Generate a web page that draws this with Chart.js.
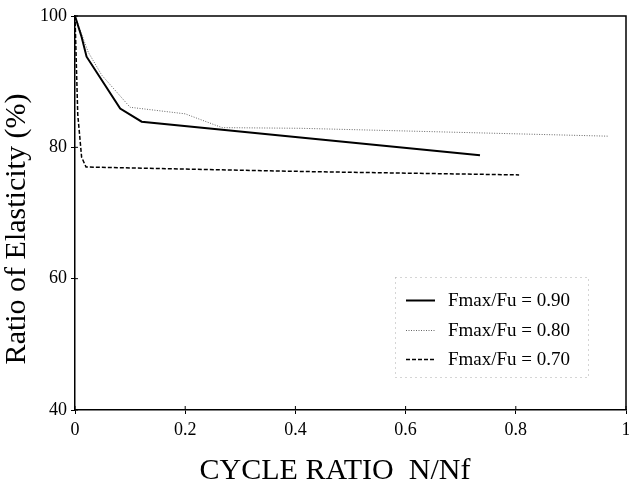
<!DOCTYPE html>
<html>
<head>
<meta charset="utf-8">
<script src="https://cdn.jsdelivr.net/npm/chart.js@4"></script>
<style>
  body { margin: 0; background: #fff; }
  #wrap { width: 629px; height: 486px; }
</style>
</head>
<body>
<div id="wrap"><canvas id="grafica" width="629" height="486"></canvas></div>
<script>
// --- datos ---
const cycle90 = [0, 0.012, 0.021, 0.082, 0.121, 0.409, 0.735];
const ratio90 = [100, 96.8, 93.8, 85.9, 83.9, 81.5, 78.8];

const cycle80 = [0, 0.024, 0.0485, 0.100, 0.200, 0.267, 0.409, 0.967];
const ratio80 = [100, 94.5, 91.0, 86.1, 85.1, 83.0, 82.9, 81.7];

const cycle70 = [0, 0.005, 0.012, 0.020, 0.427, 0.806];
const ratio70 = [100, 85, 78.5, 77.0, 76.3, 75.8];

const etiquetas = ['Fmax/Fu = 0.90', 'Fmax/Fu = 0.80', 'Fmax/Fu = 0.70'];
const xTicks = [0, 0.2, 0.4, 0.6, 0.8, 1];
const xTickLabels = ['0', '0.2', '0.4', '0.6', '0.8', '1'];
const yTicks = [40, 60, 80, 100];
const tituloX = 'CYCLE RATIO  N/Nf';
const tituloY = 'Ratio of Elasticity (%)';

const SERIF = "'Liberation Serif', 'Times New Roman', serif";
const puntos = (xs, ys) => xs.map((x, i) => ({ x: x, y: ys[i] }));

// bordes arriba/derecha + marcas hacia dentro
const marcoPlugin = {
  id: 'marco',
  afterDatasetsDraw(chart) {
    const c = chart.ctx, a = chart.chartArea, sx = chart.scales.x, sy = chart.scales.y;
    c.save();
    c.strokeStyle = '#000'; c.lineWidth = 1.5;
    c.beginPath();
    c.moveTo(a.left, a.top); c.lineTo(a.right, a.top); c.lineTo(a.right, a.bottom);
    c.stroke();
    c.lineWidth = 1;
    c.beginPath();
    xTicks.forEach(v => { const px = sx.getPixelForValue(v); c.moveTo(px, a.bottom); c.lineTo(px, a.bottom - 4); });
    yTicks.forEach(v => { const py = sy.getPixelForValue(v); c.moveTo(a.left, py); c.lineTo(a.left + 3, py); });
    c.stroke();
    c.restore();
  }
};

// titulos de ejes en su sitio exacto
const titulosPlugin = {
  id: 'titulos',
  afterDraw(chart) {
    const c = chart.ctx;
    c.save();
    c.fillStyle = '#000';
    c.font = '30px ' + SERIF;
    c.textAlign = 'center'; c.textBaseline = 'middle';
    c.fillText(tituloX, 335, 471);
    c.translate(17, 229); c.rotate(-Math.PI / 2);
    c.fillText(tituloY, 0, 0);
    c.restore();
  }
};

// leyenda dentro del area
const leyendaPlugin = {
  id: 'leyenda',
  afterDraw(chart) {
    const c = chart.ctx;
    c.save();
    c.strokeStyle = '#aaa'; c.lineWidth = 1; c.setLineDash([1, 4]);
    c.strokeRect(395.5, 277.5, 193, 100);
    c.font = '19px ' + SERIF; c.fillStyle = '#000'; c.textBaseline = 'middle'; c.textAlign = 'left';
    const filas = [300, 330, 359];
    chart.data.datasets.forEach((ds, i) => {
      c.strokeStyle = ds.borderColor; c.lineWidth = ds.borderWidth; c.setLineDash(ds.borderDash || []);
      c.beginPath(); c.moveTo(406, filas[i] + 0.5); c.lineTo(435, filas[i] + 0.5); c.stroke();
      c.fillText(ds.label, 448, filas[i] + 1);
    });
    c.restore();
  }
};

new Chart(document.getElementById('grafica'), {
  type: 'scatter',
  data: {
    datasets: [
      { label: etiquetas[0], data: puntos(cycle90, ratio90), borderColor: '#000', borderWidth: 2, showLine: true, pointRadius: 0, tension: 0 },
      { label: etiquetas[1], data: puntos(cycle80, ratio80), borderColor: '#666', borderWidth: 1, borderDash: [1, 1.5], showLine: true, pointRadius: 0, tension: 0 },
      { label: etiquetas[2], data: puntos(cycle70, ratio70), borderColor: '#000', borderWidth: 1.5, borderDash: [4, 2], showLine: true, pointRadius: 0, tension: 0 }
    ]
  },
  options: {
    responsive: false, animation: false,
    layout: { autoPadding: false, padding: { left: 0, top: 16, right: 3, bottom: 0 } },
    plugins: { legend: { display: false }, tooltip: { enabled: false } },
    scales: {
      x: {
        type: 'linear', min: 0, max: 1,
        afterBuildTicks: (s) => { s.ticks = xTicks.map(v => ({ value: v })); },
        afterFit: (s) => { s.height = 76; s.paddingLeft = 0; s.paddingRight = 0; },
        grid: { drawOnChartArea: false, tickLength: 4, color: '#000' },
        border: { color: '#000', width: 1.5 },
        ticks: { color: '#000', padding: 5, maxRotation: 0, font: { family: SERIF, size: 18 },
                 callback: (v, i) => xTickLabels[i] }
      },
      y: {
        type: 'linear', min: 40, max: 100,
        afterBuildTicks: (s) => { s.ticks = yTicks.map(v => ({ value: v })); },
        afterFit: (s) => { s.width = 75; s.paddingTop = 0; s.paddingBottom = 0; },
        grid: { drawOnChartArea: false, tickLength: 4, color: '#000' },
        border: { color: '#000', width: 1.5 },
        ticks: { color: '#000', padding: 4, font: { family: SERIF, size: 18 } }
      }
    }
  },
  plugins: [marcoPlugin, titulosPlugin, leyendaPlugin]
});
</script>
</body>
</html>
